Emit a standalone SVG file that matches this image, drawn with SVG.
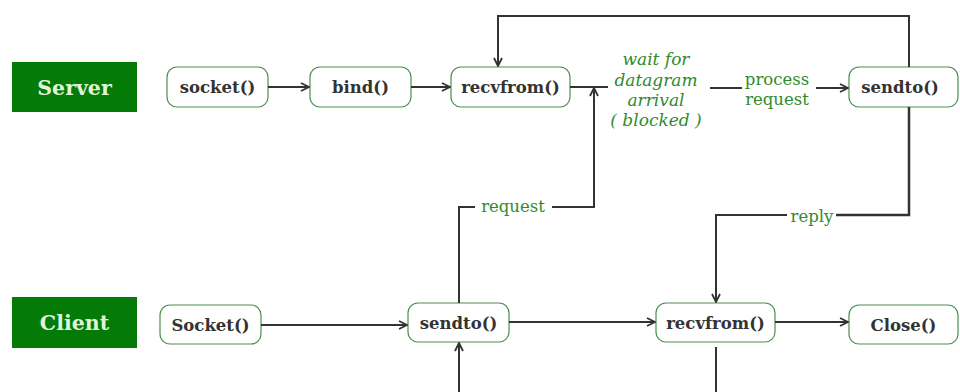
<svg xmlns="http://www.w3.org/2000/svg" width="960" height="392" viewBox="0 0 960 392">
<style>
.lab{fill:#037b06}
.labt{font-family:"DejaVu Serif",serif;font-weight:bold;font-size:20.5px;fill:#dff5d8;text-anchor:middle}
.box{fill:#fff;stroke:#4d8f4d;stroke-width:1.2}
.bt{font-family:"DejaVu Serif",serif;font-weight:bold;font-size:16.5px;fill:#333;text-anchor:middle}
.ln{fill:none;stroke:#333;stroke-width:2}
.g{font-family:"DejaVu Serif",serif;font-size:16.5px;fill:#2e8b2e;text-anchor:middle}
.gi{font-style:italic;font-size:17px}
</style>
<defs>
<marker id="ar" viewBox="0 0 10 10" refX="9" refY="5" markerWidth="10" markerHeight="10" markerUnits="userSpaceOnUse" orient="auto">
<polyline points="1,1 9,5 1,9" fill="none" stroke="#333" stroke-width="1.8"/>
</marker>
</defs>
<rect width="960" height="392" fill="#fff"/>
<g id="server"><rect class="lab" x="12" y="62" width="125" height="50"/><text class="labt" x="74.5" y="95">Server</text></g>
<g id="client"><rect class="lab" x="12" y="297" width="125" height="51"/><text class="labt" x="74.5" y="330">Client</text></g>
<g id="s_socket"><rect class="box" x="167" y="67" width="101" height="40" rx="10"/><text class="bt" x="217.5" y="93">socket()</text></g>
<g id="s_bind"><rect class="box" x="310" y="67" width="101" height="40" rx="10"/><text class="bt" x="360.5" y="93">bind()</text></g>
<g id="s_recvfrom"><rect class="box" x="451" y="67" width="119" height="40" rx="10"/><text class="bt" x="510.5" y="93">recvfrom()</text></g>
<g id="s_sendto"><rect class="box" x="849" y="67" width="109" height="40" rx="10"/><text class="bt" x="900" y="93">sendto()</text></g>
<g id="c_socket"><rect class="box" x="160" y="305" width="101" height="39" rx="10"/><text class="bt" x="210.5" y="331">Socket()</text></g>
<g id="c_sendto"><rect class="box" x="408" y="303" width="101" height="39" rx="10"/><text class="bt" x="458.5" y="329">sendto()</text></g>
<g id="c_recvfrom"><rect class="box" x="656" y="303" width="119" height="39" rx="10"/><text class="bt" x="715.5" y="329">recvfrom()</text></g>
<g id="c_close"><rect class="box" x="849" y="305" width="109" height="39" rx="10"/><text class="bt" x="903.5" y="331">Close()</text></g>
<g id="connectors">
<line class="ln" x1="268" y1="87" x2="309" y2="87" marker-end="url(#ar)"/>
<line class="ln" x1="411" y1="87" x2="450" y2="87" marker-end="url(#ar)"/>
<polyline class="ln" points="909,67 909,16 498,16 498,66" marker-end="url(#ar)"/>
<line class="ln" x1="570" y1="87" x2="608" y2="87"/>
<line class="ln" x1="710" y1="88" x2="742" y2="88"/>
<line class="ln" x1="816" y1="88" x2="848" y2="88" marker-end="url(#ar)"/>
<polyline class="ln" points="459,303 459,207 475,207"/>
<polyline class="ln" points="552,207 594,207 594,88" marker-end="url(#ar)"/>
<polyline class="ln" points="909,107 909,215 836,215" style="stroke-width:2.5"/>
<polyline class="ln" points="787,215 716,215 716,302" marker-end="url(#ar)"/>
<line class="ln" x1="261" y1="325" x2="407" y2="325" marker-end="url(#ar)"/>
<line class="ln" x1="509" y1="322" x2="655" y2="322" marker-end="url(#ar)"/>
<line class="ln" x1="775" y1="322" x2="848" y2="322" marker-end="url(#ar)"/>
<line class="ln" x1="459" y1="392" x2="459" y2="343" marker-end="url(#ar)"/>
<line class="ln" x1="716" y1="347" x2="716" y2="392"/>
</g>
<g id="labels">
<text class="g gi" x="656" y="65">wait for</text>
<text class="g gi" x="656" y="86">datagram</text>
<text class="g gi" x="656" y="106">arrival</text>
<text class="g gi" x="656" y="126">( blocked )</text>
<text class="g" x="777" y="85">process</text>
<text class="g" x="777" y="105">request</text>
<text class="g" x="513" y="212">request</text>
<text class="g" x="812" y="222">reply</text>
</g>
</svg>
